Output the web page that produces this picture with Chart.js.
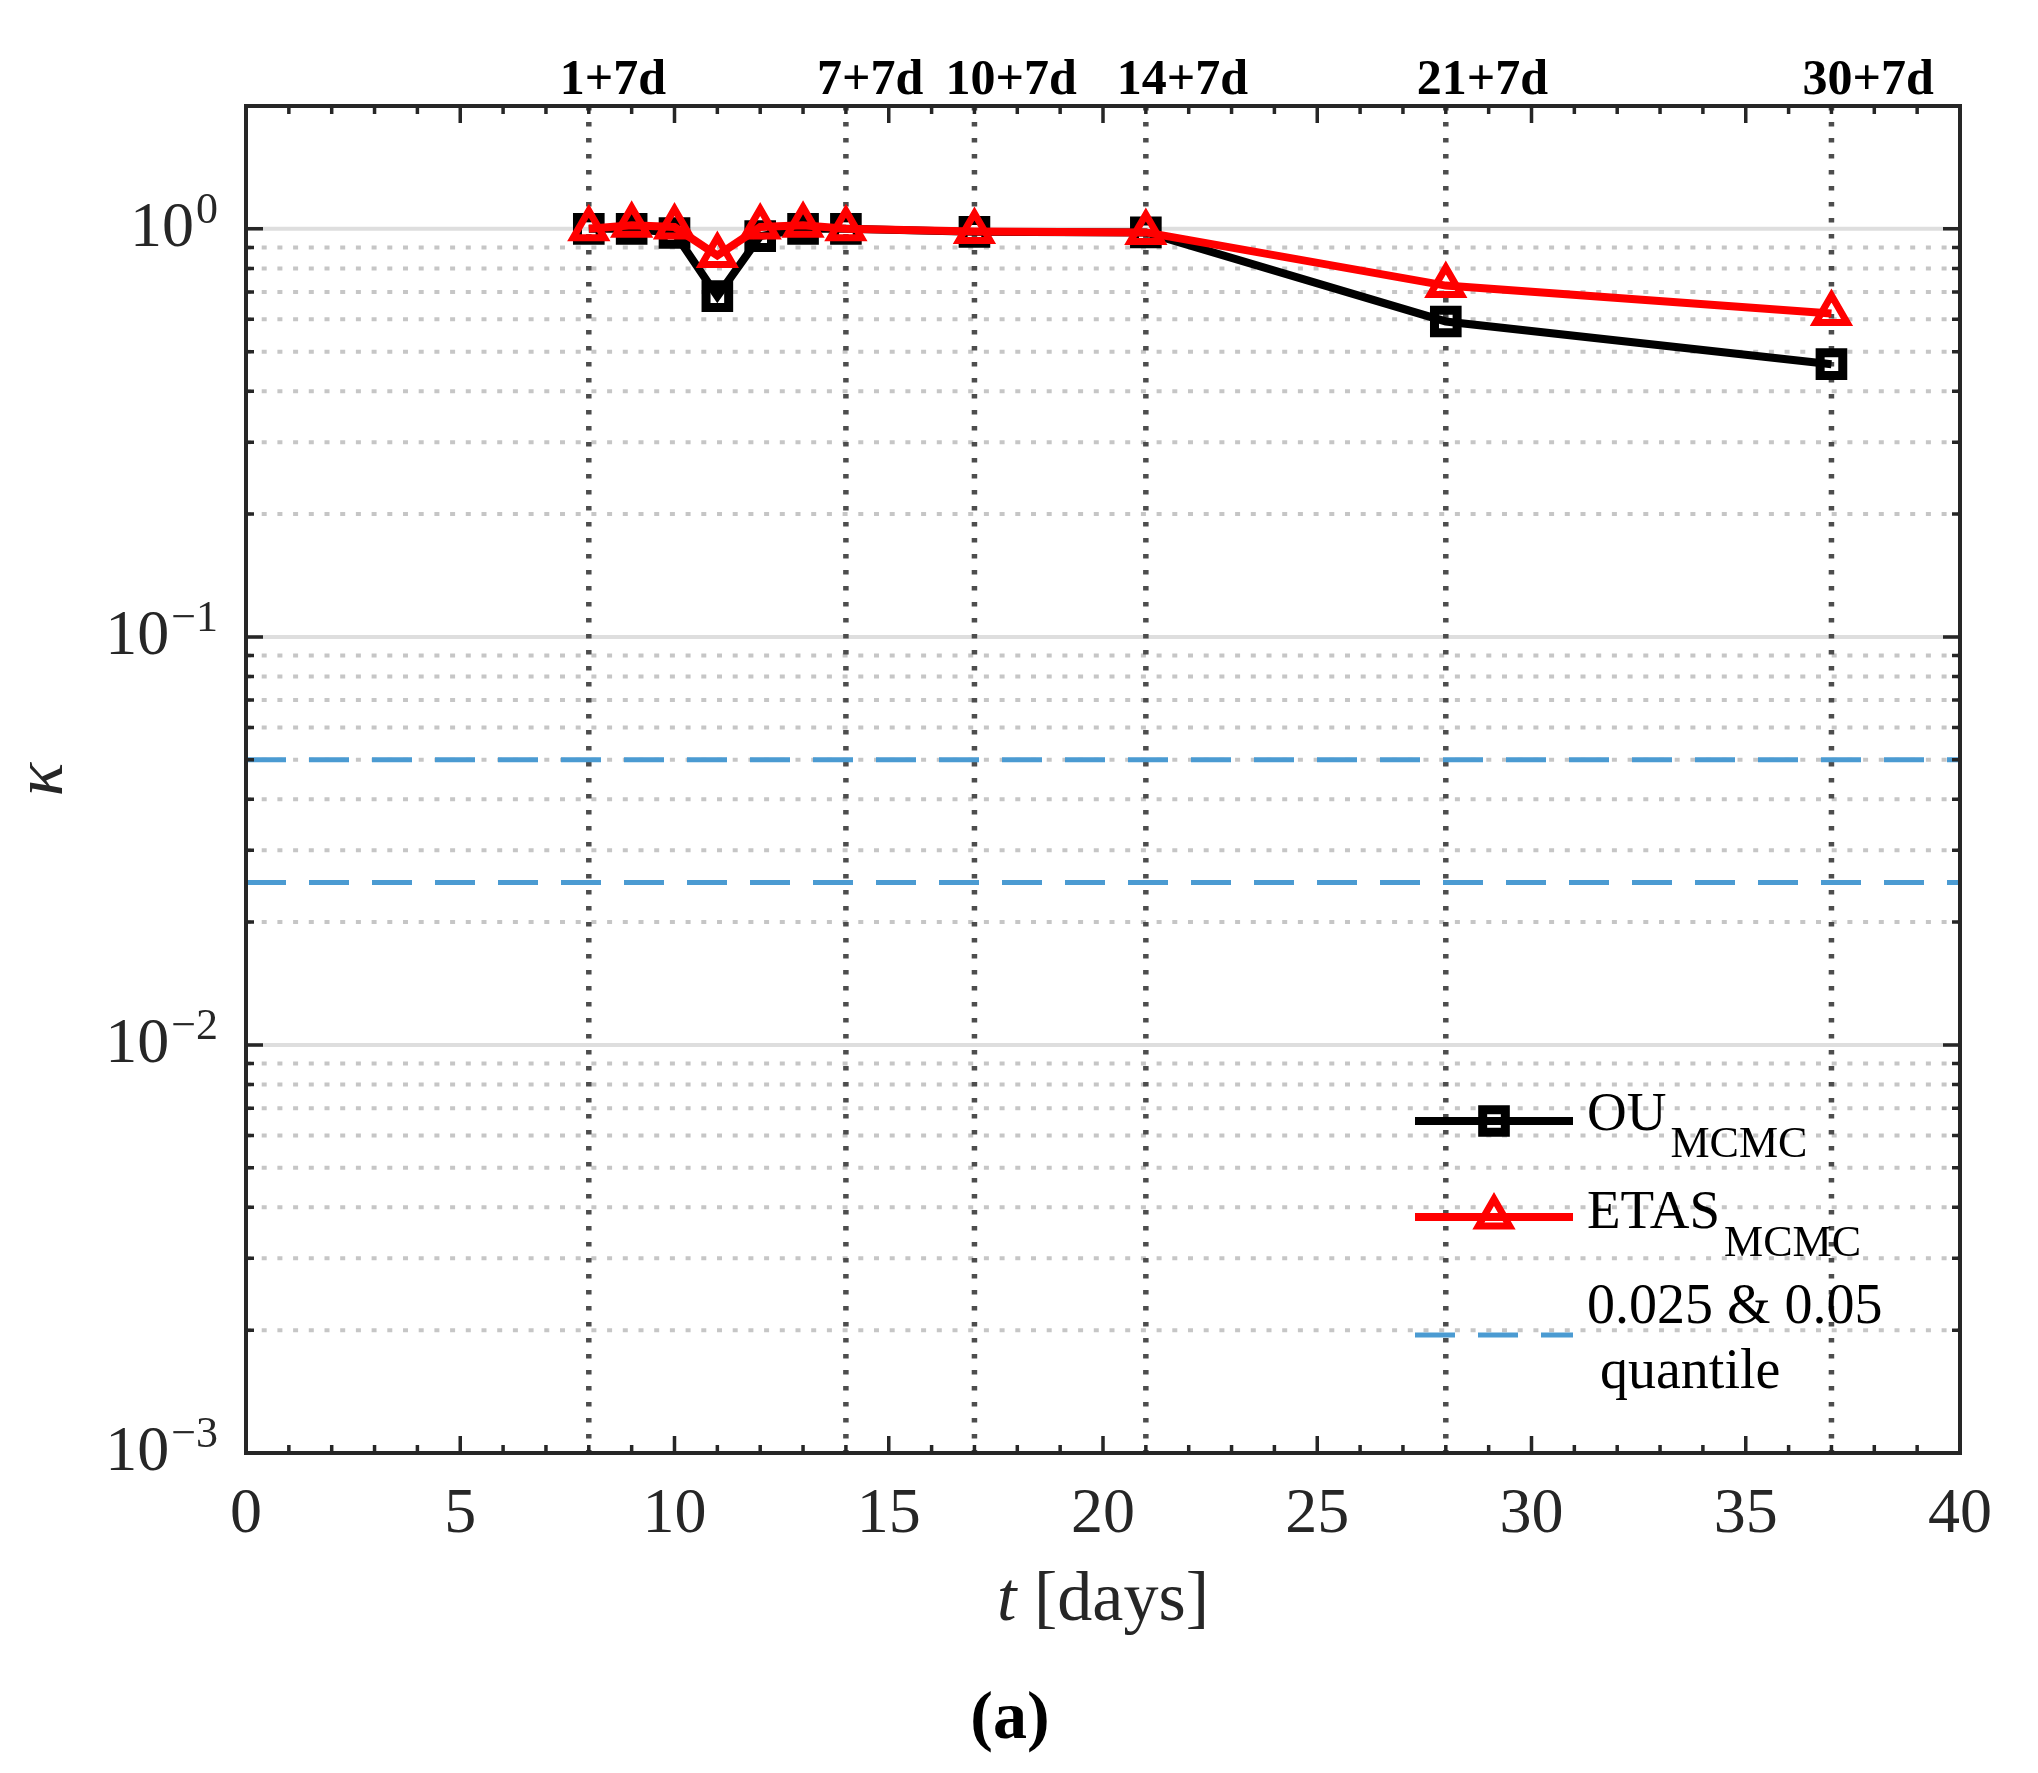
<!DOCTYPE html>
<html>
<head>
<meta charset="utf-8">
<script src="https://cdn.jsdelivr.net/npm/chart.js@4.4.0/dist/chart.umd.min.js"></script>
<style>
html,body{margin:0;padding:0;background:#fff;}
#wrap{width:2038px;height:1773px;}
</style>
</head>
<body>
<div id="wrap"><canvas id="c" width="2038" height="1773"></canvas></div>
<script>
// ---------- data ----------
const days = [8, 9, 10, 11, 12, 13, 14, 17, 21, 28, 37];
const ouValues = [1.0, 1.0, 0.977, 0.684, 0.96, 1.0, 1.0, 0.983, 0.98, 0.593, 0.466];
const etasValues = [1.0, 1.02, 1.01, 0.86, 1.01, 1.02, 1.0, 0.985, 0.98, 0.726, 0.62];
const quantileLevels = [0.025, 0.05];
const markerDays = [8, 14, 17, 21, 28, 37];
const markerLabels = ['1+7d', '7+7d', '10+7d', '14+7d', '21+7d', '30+7d'];
const xTickValues = [0, 5, 10, 15, 20, 25, 30, 35, 40];
const yTickExponents = [-3, -2, -1, 0];
const legendLabels = [['OU', 'MCMC'], ['ETAS', 'MCMC'], ['0.025 & 0.05', 'quantile']];
const xAxisTitle = ['t', ' [days]'];
const yAxisTitle = 'κ';
const panelLabel = '(a)';

const X_MIN = 0, X_MAX = 40, Y_MIN = 0.001, Y_MAX = 2;
const SERIF = '"Liberation Serif", "Times New Roman", serif';
const AXIS_COLOR = '#262626';
const BLUE = '#4b9bd2';

const pts = (xs, ys) => xs.map((v, i) => ({x: v, y: ys[i]}));

const plugin = {
  id: 'matlabLook',
  beforeDraw(chart) {
    const ctx = chart.ctx;
    ctx.save();
    ctx.fillStyle = '#ffffff';
    ctx.fillRect(0, 0, chart.width, chart.height);
    ctx.restore();
  },
  beforeDatasetsDraw(chart) {
    const {ctx, chartArea: a, scales: {x, y}} = chart;
    ctx.save();
    // minor horizontal grid (dotted)
    ctx.setLineDash([5, 10.7]);
    ctx.strokeStyle = '#c6c6c6';
    ctx.lineWidth = 4;
    for (const e of yTickExponents) {
      for (let m = 2; m <= 9; m++) {
        const v = Number((m * Math.pow(10, e)).toPrecision(3));
        if (v >= Y_MAX) continue;
        const py = y.getPixelForValue(v);
        ctx.beginPath(); ctx.moveTo(a.left, py); ctx.lineTo(a.right, py); ctx.stroke();
      }
    }
    // major horizontal grid (solid)
    ctx.setLineDash([]);
    ctx.strokeStyle = '#dedede';
    ctx.lineWidth = 4;
    for (const e of yTickExponents) {
      const v = Math.pow(10, e);
      if (v <= Y_MIN) continue;
      const py = y.getPixelForValue(v);
      ctx.beginPath(); ctx.moveTo(a.left, py); ctx.lineTo(a.right, py); ctx.stroke();
    }
    // vertical dotted lines at forecast days
    ctx.setLineDash([4.5, 11.5]);
    ctx.strokeStyle = '#4d4d4d';
    ctx.lineWidth = 5.5;
    for (const t of markerDays) {
      const px = x.getPixelForValue(t);
      ctx.beginPath(); ctx.moveTo(px, a.top); ctx.lineTo(px, a.bottom); ctx.stroke();
    }
    ctx.restore();
  },
  afterDraw(chart) {
    const {ctx, chartArea: a, scales: {x, y}} = chart;
    ctx.save();
    // box
    ctx.strokeStyle = AXIS_COLOR;
    ctx.lineWidth = 4;
    ctx.setLineDash([]);
    ctx.strokeRect(a.left, a.top, a.right - a.left, a.bottom - a.top);
    // x ticks (inward, top & bottom)
    ctx.lineWidth = 3.5;
    for (let t = X_MIN + 1; t < X_MAX; t++) {
      const px = x.getPixelForValue(t);
      const len = (t % 5 === 0) ? 17 : 8;
      ctx.beginPath();
      ctx.moveTo(px, a.bottom); ctx.lineTo(px, a.bottom - len);
      ctx.moveTo(px, a.top); ctx.lineTo(px, a.top + len);
      ctx.stroke();
    }
    // y ticks (inward, left & right)
    for (const e of yTickExponents) {
      for (let m = 1; m <= 9; m++) {
        const v = Number((m * Math.pow(10, e)).toPrecision(3));
        if (v <= Y_MIN || v >= Y_MAX) continue;
        const py = y.getPixelForValue(v);
        const len = (m === 1) ? 17 : 8;
        ctx.beginPath();
        ctx.moveTo(a.left, py); ctx.lineTo(a.left + len, py);
        ctx.moveTo(a.right, py); ctx.lineTo(a.right - len, py);
        ctx.stroke();
      }
    }
    // x tick labels
    ctx.fillStyle = AXIS_COLOR;
    ctx.font = '64px ' + SERIF;
    ctx.textAlign = 'center';
    ctx.textBaseline = 'alphabetic';
    for (const t of xTickValues) {
      ctx.fillText(String(t), x.getPixelForValue(t), a.bottom + 79);
    }
    // y tick labels 10^e
    for (const e of yTickExponents) {
      const py = y.getPixelForValue(Math.pow(10, e));
      const exp = e < 0 ? '\u2212' + Math.abs(e) : String(e);
      ctx.font = '44px ' + SERIF;
      const ew = ctx.measureText(exp).width;
      ctx.textAlign = 'left';
      const right = a.left - 28;
      ctx.fillText(exp, right - ew, py - 6);
      ctx.font = '64px ' + SERIF;
      ctx.textAlign = 'right';
      ctx.fillText('10', right - ew - 2, py + 17);
    }
    // top labels
    ctx.fillStyle = '#000';
    ctx.font = 'bold 50px ' + SERIF;
    ctx.textAlign = 'left';
    markerDays.forEach((t, i) => {
      ctx.fillText(markerLabels[i], x.getPixelForValue(t) - 29, a.top - 12);
    });
    // x axis title
    ctx.fillStyle = AXIS_COLOR;
    const TF = 70;
    ctx.font = 'italic ' + TF + 'px ' + SERIF;
    const w1 = ctx.measureText(xAxisTitle[0]).width;
    ctx.font = TF + 'px ' + SERIF;
    const w2 = ctx.measureText(xAxisTitle[1]).width;
    const cx = (a.left + a.right) / 2;
    let sx = cx - (w1 + w2) / 2;
    ctx.textAlign = 'left';
    ctx.font = 'italic ' + TF + 'px ' + SERIF;
    ctx.fillText(xAxisTitle[0], sx, 1620);
    ctx.font = TF + 'px ' + SERIF;
    ctx.fillText(xAxisTitle[1], sx + w1, 1620);
    // y axis title (rotated)
    ctx.save();
    ctx.translate(62, (a.top + a.bottom) / 2);
    ctx.rotate(-Math.PI / 2);
    ctx.font = 'italic 70px ' + SERIF;
    ctx.textAlign = 'center';
    ctx.fillText(yAxisTitle, 0, 0);
    ctx.restore();
    // panel label
    ctx.fillStyle = '#000';
    ctx.font = 'bold 68px ' + SERIF;
    ctx.textAlign = 'center';
    ctx.fillText(panelLabel, 1010, 1738);

    // legend
    const lx0 = 1415, lx1 = 1573, lmx = 1494, tx = 1587;
    ctx.setLineDash([]);
    ctx.lineCap = 'butt';
    // OU entry
    ctx.strokeStyle = '#000';
    ctx.lineWidth = 8;
    ctx.beginPath(); ctx.moveTo(lx0, 1121); ctx.lineTo(lx1, 1121); ctx.stroke();
    ctx.fillStyle = 'rgba(0,0,0,0)';
    ctx.lineWidth = 9;
    Chart.helpers.drawPoint(ctx, {pointStyle: 'rect', radius: 16, rotation: 0, borderWidth: 9}, lmx, 1121);
    // ETAS entry
    ctx.strokeStyle = '#ff0000';
    ctx.lineWidth = 8;
    ctx.beginPath(); ctx.moveTo(lx0, 1217); ctx.lineTo(lx1, 1217); ctx.stroke();
    ctx.fillStyle = 'rgba(0,0,0,0)';
    ctx.lineWidth = 7;
    Chart.helpers.drawPoint(ctx, {pointStyle: 'triangle', radius: 18, rotation: 0, borderWidth: 7}, lmx, 1217);
    // quantile entry
    ctx.strokeStyle = BLUE;
    ctx.lineWidth = 5;
    ctx.setLineDash([40, 23]);
    ctx.beginPath(); ctx.moveTo(lx0, 1335); ctx.lineTo(lx1, 1335); ctx.stroke();
    ctx.setLineDash([]);
    // legend texts
    ctx.fillStyle = '#000';
    ctx.textAlign = 'left';
    const sub = (main, subT, x0, yb, ysb) => {
      ctx.font = '55px ' + SERIF;
      ctx.fillText(main, x0, yb);
      const mw = ctx.measureText(main).width;
      ctx.font = '44px ' + SERIF;
      ctx.fillText(subT, x0 + mw + 4, ysb);
    };
    sub(legendLabels[0][0], legendLabels[0][1], tx, 1130, 1157);
    sub(legendLabels[1][0], legendLabels[1][1], tx, 1228, 1256);
    ctx.font = '56px ' + SERIF;
    ctx.fillText(legendLabels[2][0], tx, 1323);
    ctx.fillText(legendLabels[2][1], 1600, 1388);
    ctx.restore();
  }
};

new Chart(document.getElementById('c'), {
  type: 'line',
  data: {
    datasets: [
      {
        label: 'ETAS_MCMC',
        data: pts(days, etasValues),
        order: 0,
        borderColor: '#ff0000',
        borderWidth: 8,
        pointStyle: 'triangle',
        pointRadius: 18,
        pointBorderWidth: 7,
        pointBorderColor: '#ff0000',
        pointBackgroundColor: 'rgba(0,0,0,0)',
        tension: 0,
        fill: false
      },
      {
        label: 'OU_MCMC',
        data: pts(days, ouValues),
        order: 1,
        borderColor: '#000000',
        borderWidth: 8,
        pointStyle: 'rect',
        pointRadius: 16,
        pointBorderWidth: 9,
        pointBorderColor: '#000000',
        pointBackgroundColor: 'rgba(0,0,0,0)',
        tension: 0,
        fill: false
      },
      ...quantileLevels.map((q, i) => ({
        label: 'quantile ' + q,
        data: [{x: X_MIN, y: q}, {x: X_MAX, y: q}],
        order: 2 + i,
        borderColor: BLUE,
        borderWidth: 5,
        borderDash: [40, 23],
        pointRadius: 0,
        fill: false
      }))
    ]
  },
  options: {
    responsive: false,
    animation: false,
    devicePixelRatio: 1,
    layout: {padding: {top: 106, right: 78, left: 0, bottom: 0}},
    plugins: {legend: {display: false}, tooltip: {enabled: false}, title: {display: false}},
    scales: {
      x: {
        type: 'linear', min: X_MIN, max: X_MAX,
        ticks: {display: false},
        grid: {display: false, drawTicks: false},
        border: {display: false},
        afterFit(s) { s.height = 320; }
      },
      y: {
        type: 'logarithmic', min: Y_MIN, max: Y_MAX,
        ticks: {display: false},
        grid: {display: false, drawTicks: false},
        border: {display: false},
        afterFit(s) { s.width = 246; }
      }
    }
  },
  plugins: [plugin]
});
</script>
</body>
</html>
